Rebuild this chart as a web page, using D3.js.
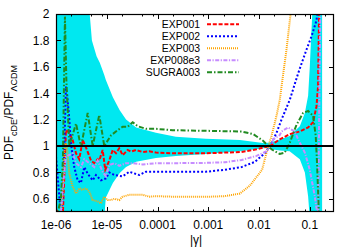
<!DOCTYPE html>
<html><head><meta charset="utf-8">
<script src="https://cdn.jsdelivr.net/npm/d3@7"></script>
<style>
html,body{margin:0;padding:0;background:#fff;}
svg text{font-family:"Liberation Sans",Arial,Helvetica,sans-serif;}
</style></head>
<body><svg id="c" width="355" height="249"></svg>
<script>
// ---- data ----
const xTicks = [1e-6, 1e-5, 1e-4, 1e-3, 1e-2, 1e-1];
const xTickLabels = ["1e-06", "1e-05", "0.0001", "0.001", "0.01", "0.1"];
const yTicks = [0.6, 0.8, 1, 1.2, 1.4, 1.6, 1.8, 2];
const yTickLabels = ["0.6", "0.8", "1", "1.2", "1.4", "1.6", "1.8", "2"];
const seriesNames = ["EXP001", "EXP002", "EXP003", "EXP008e3", "SUGRA003"];

// scatter band: [|gamma|, low, high]
const band = [
  [1e-6,0.4,2.5],[4.5e-6,0.4,2.05],[5.1e-6,0.4,1.8],[6.3e-6,0.4,1.68],[7.3e-6,0.4,1.63],
  [8.9e-6,0.45,1.54],[9.6e-6,0.61,1.5],[1.32e-5,0.72,1.37],[1.8e-5,0.795,1.27],[2.4e-5,0.84,1.2],
  [3.8e-5,0.88,1.14],[9.3e-5,0.91,1.1],[2.3e-4,0.925,1.07],[8.9e-4,0.94,1.055],[4.2e-3,0.96,1.045],
  [1.3e-2,0.985,1.02],[1.78e-2,0.975,1.03],[2.56e-2,0.965,1.05],[4.0e-2,0.96,1.076],[6.36e-2,0.9,1.15],
  [8.0e-2,0.8,1.25],[9.27e-2,0.62,1.38],[0.1,0.45,1.6],[0.115,0.4,2.1],[0.175,0.4,2.5]
];

const exp001 = [
  [1e-6,0.52],[1.2e-6,0.48],[1.37e-6,0.5],[1.5e-6,0.9],[1.57e-6,1.12],[1.83e-6,1.1],[2.13e-6,1.045],
  [2.48e-6,0.945],[2.87e-6,0.9],[3.36e-6,1.045],[3.89e-6,0.99],[4.89e-6,0.89],[5.68e-6,0.87],[6.62e-6,0.9],
  [7.12e-6,0.89],[8.3e-6,0.97],[9.34e-6,0.82],[1.12e-5,0.89],[1.31e-5,0.97],[1.52e-5,0.945],[1.76e-5,0.983],
  [2.06e-5,0.93],[2.58e-5,0.97],[2.99e-5,0.957],[3.76e-5,0.97],[5.09e-5,0.955],[6.87e-5,0.96],[9.3e-5,0.95],
  [1.98e-4,0.945],[4.2e-4,0.945],[8.97e-4,0.945],[2.12e-3,0.95],[4.53e-3,0.955],[8.93e-3,0.975],
  [1.633e-2,1.0],[2.566e-2,1.05],[4.04e-2,1.09],[6.36e-2,1.11],[9.27e-2,1.14],[0.116,1.18],[0.1355,1.3],
  [0.1456,1.45],[0.155,2.2]
];
const exp002 = [
  [1e-6,0.92],[1.09e-6,0.75],[1.2e-6,0.55],[1.31e-6,0.52],[1.44e-6,0.9],[1.57e-6,1.45],[1.65e-6,1.4],
  [1.83e-6,1.2],[1.97e-6,1.02],[2.29e-6,0.84],[2.67e-6,0.74],[3.1e-6,0.72],[3.61e-6,0.84],[4.21e-6,0.79],
  [5.28e-6,0.74],[6.13e-6,0.78],[7.69e-6,0.74],[9.64e-6,0.755],[1.12e-5,0.8],[1.41e-5,0.78],[2.06e-5,0.77],
  [2.77e-5,0.805],[4.36e-5,0.78],[5.91e-5,0.805],[9.3e-5,0.805],[1.98e-4,0.805],[8.97e-4,0.805],
  [2.12e-3,0.82],[4.53e-3,0.84],[8.26e-3,0.88],[1.3e-2,0.945],[1.763e-2,1.02],[2.213e-2,1.1],
  [2.773e-2,1.2],[3.475e-2,1.29],[4.04e-2,1.35],[5.89e-2,1.55],[8.61e-2,1.73],[0.108,1.83],[0.1355,1.95],
  [0.1456,2.05]
];
const exp003 = [
  [1e-6,0.4],[1.25e-6,0.45],[1.37e-6,0.7],[1.44e-6,0.95],[1.57e-6,1.02],[1.65e-6,0.98],[1.83e-6,0.79],
  [2.13e-6,0.69],[2.48e-6,0.64],[2.87e-6,0.68],[3.36e-6,0.667],[3.89e-6,0.68],[4.53e-6,0.654],
  [5.28e-6,0.59],[6.62e-6,0.58],[7.69e-6,0.566],[8.93e-6,0.616],[1.04e-5,0.59],[1.21e-5,0.59],
  [1.41e-5,0.6],[1.76e-5,0.59],[2.06e-5,0.616],[2.77e-5,0.63],[5.09e-5,0.63],[6.87e-5,0.616],
  [9.3e-5,0.62],[1.98e-4,0.616],[8.97e-4,0.615],[2.12e-3,0.62],[4.2e-3,0.64],[6.6e-3,0.7],
  [1.15e-2,0.82],[1.406e-2,0.95],[1.763e-2,1.076],[2.213e-2,1.23],[2.566e-2,1.35],[2.773e-2,1.45],
  [3.475e-2,1.73],[4.04e-2,1.95],[4.36e-2,2.05]
];
const exp008e3 = [
  [1e-6,0.45],[1.25e-6,0.5],[1.37e-6,0.7],[1.57e-6,0.92],[2.13e-6,0.945],[2.48e-6,0.87],[3.1e-6,0.84],
  [3.61e-6,0.9],[4.53e-6,0.87],[5.68e-6,0.84],[6.62e-6,0.89],[8.3e-6,0.805],[9.64e-6,0.77],
  [1.12e-5,0.855],[1.41e-5,0.87],[1.76e-5,0.85],[2.39e-5,0.87],[3.24e-5,0.87],[5.09e-5,0.86],
  [9.3e-5,0.87],[2.2e-4,0.87],[8.97e-4,0.872],[2.12e-3,0.877],[4.53e-3,0.894],[8.93e-3,0.925],
  [1.406e-2,0.96],[1.763e-2,1.0],[1.896e-2,1.05],[2.566e-2,1.083],[2.773e-2,1.11],[3.74e-2,1.14],
  [5.07e-2,1.11],[5.89e-2,1.05],[7.98e-2,0.95],[0.1,0.82],[0.1254,0.62],[0.139,0.5],[0.145,0.4],
  [0.162,2.1]
];
const sugra003 = [
  [1e-6,0.45],[1.09e-6,0.5],[1.25e-6,0.6],[1.37e-6,0.9],[1.5e-6,1.98],[1.6e-6,1.5],[1.83e-6,1.0],
  [2.48e-6,1.17],[3.1e-6,0.995],[4.21e-6,1.25],[5.28e-6,1.0],[7.12e-6,1.235],[8.93e-6,1.0],
  [1.21e-5,1.08],[1.64e-5,1.12],[2.06e-5,1.146],[2.58e-5,1.146],[3.24e-5,1.18],[4.06e-5,1.15],
  [5.91e-5,1.13],[9.3e-5,1.13],[1.98e-4,1.12],[8.97e-4,1.115],[4.53e-3,1.11],[7.66e-3,1.09],
  [1.2e-2,1.04],[1.763e-2,0.975],[2.566e-2,0.94],[3.22e-2,0.95],[4.04e-2,1.025],[5.47e-2,1.16],
  [7.38e-2,1.25],[9.27e-2,1.265],[0.116,1.23],[0.131,1.076],[0.139,0.87],[0.1524,0.45]
];
const seriesData = [exp001, exp002, exp003, exp008e3, sugra003];

// ---- styles ----
const styles = [
  {color:"#ff0000", dash:"4,1.8", w:2},
  {color:"#0000ff", dash:"2,2", w:2},
  {color:"#ffa500", dash:"1,1", w:2},
  {color:"#c68cff", dash:"4,1.5,1.2,1.5", w:2},
  {color:"#228b22", dash:"5,2,1.5,2", w:2}
];

// ---- layout ----
const L = 56, R = 334, T = 14, B = 212;
const svg = d3.select("#c");
const x = d3.scaleLog().domain([1e-6, 0.3]).range([L, R]);
const y = d3.scaleLinear().domain([0.5, 2]).range([B, T]);

svg.append("defs").append("clipPath").attr("id","clip")
  .append("rect").attr("x",L).attr("y",T).attr("width",R-L).attr("height",B-T);

const plot = svg.append("g").attr("clip-path","url(#clip)");

plot.append("path").datum(band)
  .attr("d", d3.area().x(d=>x(d[0])).y0(d=>y(d[1])).y1(d=>y(d[2])))
  .attr("fill","#00e8f0").attr("stroke","none");

const line = d3.line().x(d=>x(d[0])).y(d=>y(d[1]));
seriesData.forEach((s,i)=>{
  plot.append("path").datum(s).attr("d",line)
    .attr("fill","none").attr("stroke",styles[i].color)
    .attr("stroke-width",styles[i].w).attr("stroke-dasharray",styles[i].dash);
});

plot.append("line").attr("x1",L).attr("x2",R).attr("y1",y(1)).attr("y2",y(1))
  .attr("stroke","#000").attr("stroke-width",2);

// ---- ticks ----
const tk = svg.append("g").attr("stroke","#000").attr("stroke-width",1);
xTicks.forEach(v=>{
  const px = Math.round(x(v))+0.5;
  tk.append("line").attr("x1",px).attr("x2",px).attr("y1",B).attr("y2",B-5);
  tk.append("line").attr("x1",px).attr("x2",px).attr("y1",T).attr("y2",T+5);
});
xTicks.forEach(v=>{
  [2,5,8].forEach(m=>{
    const g = v*m;
    if (g < 0.3) {
      const px = Math.round(x(g))+0.5;
      tk.append("line").attr("x1",px).attr("x2",px).attr("y1",B).attr("y2",B-2.5);
      tk.append("line").attr("x1",px).attr("x2",px).attr("y1",T).attr("y2",T+2.5);
    }
  });
});
yTicks.forEach(v=>{
  const py = Math.round(y(v))+0.5;
  tk.append("line").attr("x1",L).attr("x2",L+5).attr("y1",py).attr("y2",py);
  tk.append("line").attr("x1",R).attr("x2",R-5).attr("y1",py).attr("y2",py);
});

svg.append("rect").attr("x",L+0.5).attr("y",T+0.5).attr("width",R-L-1).attr("height",B-T-1)
  .attr("fill","none").attr("stroke","#000").attr("stroke-width",1.2);

// ---- tick labels ----
xTicks.forEach((v,i)=>{
  svg.append("text").attr("x",x(v)).attr("y",228.5).attr("text-anchor","middle")
    .attr("font-size",12).attr("fill","#000").text(xTickLabels[i]);
});
yTicks.forEach((v,i)=>{
  svg.append("text").attr("x",49.5).attr("y",y(v)+4.3).attr("text-anchor","end")
    .attr("font-size",12).attr("fill","#000").text(yTickLabels[i]);
});

// ---- axis titles ----
svg.append("text").attr("x",196).attr("y",244).attr("text-anchor","middle")
  .attr("font-size",12).attr("fill","#000").text("|γ|");

const yt = svg.append("text").attr("transform","translate(13,112.5) rotate(-90)")
  .attr("text-anchor","middle").attr("font-size",12).attr("fill","#000");
yt.append("tspan").text("PDF");
yt.append("tspan").attr("dy",3.6).attr("font-size",9).text("cDE");
yt.append("tspan").attr("dy",-3.6).text("/PDF");
yt.append("tspan").attr("dy",3.6).attr("font-size",9).text("ΛCDM");

// ---- legend ----
const legY = [24.3, 36.3, 48.3, 60.3, 72.3];
seriesNames.forEach((n,i)=>{
  svg.append("text").attr("x",200).attr("y",legY[i]+3.8).attr("text-anchor","end")
    .attr("font-size",10.4).attr("fill","#000").text(n);
  svg.append("line").attr("x1",207).attr("x2",239).attr("y1",legY[i]).attr("y2",legY[i])
    .attr("stroke",styles[i].color).attr("stroke-width",styles[i].w)
    .attr("stroke-dasharray",styles[i].dash);
});
</script></body></html>
